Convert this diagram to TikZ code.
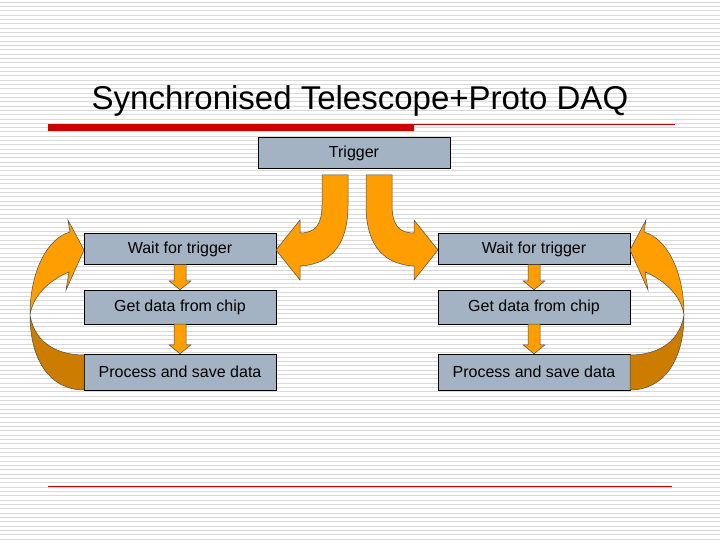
\documentclass[tikz,border=0pt]{standalone}
\usepackage{fontspec}
\setmainfont{Liberation Sans}
\usetikzlibrary{calc}
\begin{document}
\begin{tikzpicture}[x=1pt,y=-1pt,
  box/.style={draw=black,fill=boxc,minimum width=192pt,minimum height=31pt,inner sep=0pt,font=\fontsize{16}{19}\selectfont},
  arr/.style={draw=black!70,line width=0.5pt,fill=orng},
  arrd/.style={draw=black!70,line width=0.5pt,fill=orngd}]
\definecolor{boxc}{HTML}{A4B3C3}
\definecolor{orng}{HTML}{FF9E00}
\definecolor{orngd}{HTML}{CC7D00}
\definecolor{redc}{HTML}{CC0000}
\useasboundingbox (0,0) rectangle (720,540);
\fill[white] (0,0) rectangle (720,540);
\foreach \i in {0,...,124} \draw[black!15,line width=0.8pt] (0,2+4.33*\i) -- (720,2+4.33*\i);
\node[anchor=base,font=\fontsize{33}{38}\selectfont] (title) at (360,110) {Synchronised Telescope+Proto DAQ};
\fill[redc] (48,124) rectangle (414,131);
\draw[redc,line width=0.6pt] (414,124) -- (675,124);
\draw[redc,line width=0.6pt] (48,486) -- (672,486);
\node[box] (trig) at (354,153) {Trigger};
\node[box] (lw) at (180,249) {Wait for trigger};
\node[box,minimum height=34pt] (lg) at (180,307) {Get data from chip};
\node[box,minimum height=36pt] (lp) at (180,372) {Process and save data};
\node[box] (rw) at (534,249) {Wait for trigger};
\node[box,minimum height=34pt] (rg) at (534,307) {Get data from chip};
\node[box,minimum height=36pt] (rp) at (534,372) {Process and save data};
\foreach \a/\b in {lw/lg,lg/lp,rw/rg,rg/rp}{
  \path (\a.south) coordinate (s) (\b.north) coordinate (t);
  \draw[arr] ($(s)+(-6,0)$) -- ($(t)+(-6,-9)$) -- ($(t)+(-11,-9)$) -- (t) -- ($(t)+(11,-9)$) -- ($(t)+(6,-9)$) -- ($(s)+(6,0)$) -- cycle;
}
\foreach \s in {1,-1}{
\begin{scope}[xshift={357*(1-\s)}, xscale=\s]
\draw[arr] (322,175) -- (322,205) .. controls (322,225) and (315,233) .. (300,233) -- (300,220) -- (276,250) -- (300,280) -- (300,266) .. controls (335,264) and (348,240) .. (348,205) -- (348,175) -- cycle;
\draw[arrd] (30,315) .. controls (35,345) and (60,355) .. (84,355) -- (84,390) .. controls (50,390) and (30,360) .. (30,315) -- cycle;
\draw[arr] (30,315) .. controls (30,270) and (48,238) .. (70,232) -- (68,220) -- (84,250) -- (66,290) -- (69,272) .. controls (50,280) and (33,295) .. (30,315) -- cycle;
\end{scope}}
\end{tikzpicture}
\end{document}
